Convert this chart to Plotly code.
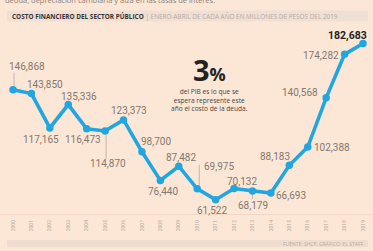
import plotly.graph_objects as go

years = [str(y) for y in range(2000, 2020)]
values = [146868, 143850, 117165, 135336, 116473, 114870, 123373, 98700, 76440, 87482,
          69975, 61522, 70132, 68179, 66693, 88183, 102388, 140568, 174282, 182683]
value_labels = ["146,868", "143,850", "117,165", "135,336", "116,473", "114,870", "123,373",
                "98,700", "76,440", "87,482", "69,975", "61,522", "70,132", "68,179",
                "66,693", "88,183", "102,388", "140,568", "174,282", "182,683"]
# label offsets in pixels (dx, dy up positive)
label_offsets = [(14, 23), (14, 9), (-9, -12), (11, 8), (-4, -11), (3, -33), (5, 9),
                 (14, 10), (3, -11), (2, 9), (22, 22), (-4, -11), (8, 7), (1, -14),
                 (20, -2), (-14, 9), (24, 0), (-26, 5), (-24, -1), (-16, 8)]
# leader lines: (index, x pixel offset, y0 px, y1 px)
leaders = [(0, 1, 3, 17), (5, 1, -4, -28), (10, 2, 2, 24), (13, 0, -2, -8)]

BG = "#fce7d6"
BLUE = "#22a6e2"
GRAY = "#83776f"
FONT = "Roboto, 'Liberation Sans', sans-serif"

x = list(range(len(years)))

fig = go.Figure()
fig.add_trace(go.Scatter(
    x=x, y=values, mode="lines+markers",
    line=dict(color=BLUE, width=3.6),
    marker=dict(color=BLUE, size=7.5),
    hoverinfo="skip", showlegend=False,
))

annotations = []
for i, (v, lab, (dx, dy)) in enumerate(zip(values, value_labels, label_offsets)):
    last = i == len(values) - 1
    annotations.append(dict(
        x=i, y=v, xref="x", yref="y", text=f"<b>{lab}</b>" if last else lab,
        showarrow=False, xshift=dx, yshift=dy,
        font=dict(family=FONT, size=10.5 if last else 10, color="#222222" if last else GRAY),
    ))

shapes = []
for (i, px, y0, y1) in leaders:
    shapes.append(dict(
        type="line", xref="x", yref="y", xsizemode="pixel", ysizemode="pixel",
        xanchor=i, yanchor=values[i], x0=px, x1=px, y0=y0, y1=y1,
        line=dict(color="#b5a9a1", width=0.8), layer="below",
    ))

# header band
shapes.append(dict(type="rect", xref="paper", yref="paper", x0=7/373, x1=368/373,
                   y0=(214-21.5)/192, y1=(214-10.5)/192,
                   fillcolor="#efdfd4", line=dict(width=0), layer="below"))
# footer band
shapes.append(dict(type="rect", xref="paper", yref="paper", x0=7/373, x1=368/373,
                   y0=(214-247)/192, y1=(214-240)/192,
                   fillcolor="#f0ddd0", line=dict(width=0), layer="below"))

annotations.append(dict(
    xref="paper", yref="paper", x=3/373, y=(214-0.5)/192, xanchor="left", yanchor="middle",
    text="deuda, depreciación cambiaria y alza en las tasas de interés.", showarrow=False,
    font=dict(family="Open Sans", size=7.5, color="#8a807a"),
))
annotations.append(dict(
    xref="paper", yref="paper", x=10/373, y=(214-16)/192, xanchor="left", yanchor="middle",
    text="<b>COSTO FINANCIERO DEL SECTOR PÚBLICO</b> <span style='color:#b8aca4'>| ENERO-ABRIL DE CADA AÑO EN MILLONES DE PESOS DEL 2019</span>",
    showarrow=False, font=dict(family="Open Sans", size=6.4, color="#3a3330"),
))
annotations.append(dict(
    xref="paper", yref="paper", x=366/373, y=(214-243.5)/192, xanchor="right", yanchor="middle",
    text="FUENTE: SHCP. GRÁFICO: EL STAFF.", showarrow=False,
    font=dict(family="Open Sans", size=5, color="#b8aca4"),
))
annotations.append(dict(
    xref="paper", yref="paper", x=209/373, y=(214-69)/192, xanchor="center", yanchor="middle",
    text="<b>3</b><b><span style='font-size:18px'>%</span></b>", showarrow=False,
    font=dict(family="Open Sans", size=29, color="#222222"),
))
annotations.append(dict(
    xref="paper", yref="paper", x=209/373, y=(214-100)/192, xanchor="center", yanchor="middle",
    text="del PIB es lo que se<br>espera represente este<br>año el costo de la deuda.",
    showarrow=False, align="center",
    font=dict(family="Open Sans", size=6.6, color="#4a4340"),
))

fig.update_layout(
    width=373, height=251,
    margin=dict(l=0, r=0, t=22, b=37),
    paper_bgcolor=BG, plot_bgcolor=BG,
    xaxis=dict(
        range=[-13/18.42, 19 + 10/18.42], tickmode="array", tickvals=x, ticktext=years,
        tickangle=-90, tickfont=dict(family=FONT, size=5, color="#b5a9a1"),
        showgrid=False, zeroline=False, showline=True, linecolor="#f2d8c6", linewidth=1,
        ticks="outside", ticklen=3, tickcolor=BG, fixedrange=True,
    ),
    yaxis=dict(range=[50400, 199400], visible=False, fixedrange=True),
    annotations=annotations, shapes=shapes,
)

fig.write_html(
    "out.html",
    config={"displayModeBar": False},
    post_script="document.body.style.margin='0';document.body.style.overflow='hidden';"
                "document.documentElement.style.overflow='hidden';",
)
